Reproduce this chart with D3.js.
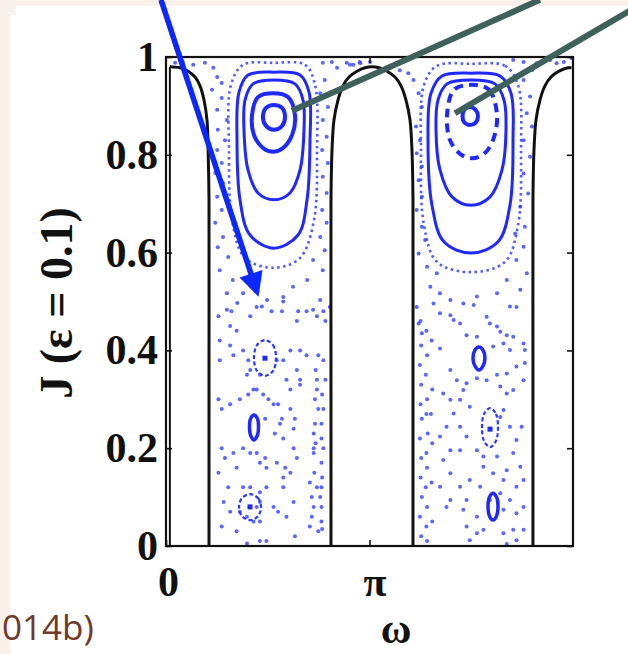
<!DOCTYPE html>
<html>
<head>
<meta charset="utf-8">
<script src="https://cdn.jsdelivr.net/npm/d3@7"></script>
<style>
  html, body { margin: 0; padding: 0; background: #f9f1ea; }
  svg { display: block; }
  .tick text { font-family: "Liberation Serif", "Times New Roman", serif; font-weight: bold; font-size: 42px; fill: #111; }
</style>
</head>
<body>
<svg id="chart" width="628" height="654"></svg>
<script>
// axis ticks
var xTickValues = [0, Math.PI];
var xTickLabels = ["0", "\u03c0"];
var yTickValues = [0, 0.2, 0.4, 0.6, 0.8, 1];
var yTickLabels = ["0", "0.2", "0.4", "0.6", "0.8", "1"];

// separatrices (black) [omega, J]
var sepLeft = [[0.06,0.980],[0.216,0.978],[0.340,0.971],[0.448,0.959],[0.525,0.941],[0.587,0.912],[0.633,0.871],[0.650,0.810],[0.664,0.708],[0.664,0.40],[0.664,0.0]];
var sepMiddle = [[2.547,0],[2.547,0.40],[2.547,0.708],[2.563,0.810],[2.593,0.871],[2.655,0.912],[2.732,0.941],[2.825,0.959],[2.948,0.971],[3.072,0.978],[3.180,0.980],[3.288,0.978],[3.412,0.971],[3.535,0.959],[3.628,0.941],[3.705,0.912],[3.767,0.871],[3.797,0.810],[3.813,0.708],[3.813,0.40],[3.813,0]];
var sepRight = [[5.665,0],[5.665,0.40],[5.665,0.708],[5.681,0.810],[5.712,0.871],[5.773,0.912],[5.850,0.941],[5.943,0.959],[6.067,0.971],[6.206,0.978],[6.26,0.978]];
var sepWall = [[0.06,0],[0.06,0.98]];

// big islands: solid rings
var ringsSolid = [
  // left island
  [[1.667,0.902],[1.791,0.896],[1.837,0.877],[1.791,0.859],[1.667,0.851],[1.544,0.859],[1.497,0.877],[1.544,0.896]],
  [[1.652,0.926],[1.883,0.918],[1.991,0.881],[1.945,0.840],[1.806,0.814],[1.652,0.806],[1.497,0.814],[1.359,0.840],[1.328,0.881],[1.420,0.918]],
  [[1.667,0.953],[1.991,0.945],[2.115,0.912],[2.130,0.851],[2.069,0.769],[1.914,0.722],[1.667,0.708],[1.420,0.722],[1.266,0.769],[1.204,0.851],[1.220,0.912],[1.343,0.945]],
  [[1.667,0.969],[2.069,0.963],[2.208,0.928],[2.223,0.830],[2.177,0.708],[2.038,0.636],[1.667,0.609],[1.297,0.636],[1.142,0.708],[1.096,0.830],[1.127,0.928],[1.266,0.963]],
  // right island
  [[4.693,0.898],[4.780,0.892],[4.816,0.879],[4.780,0.866],[4.693,0.861],[4.606,0.866],[4.577,0.879],[4.606,0.892]],
  [[4.708,0.953],[5.079,0.945],[5.218,0.912],[5.249,0.851],[5.187,0.769],[5.002,0.714],[4.708,0.697],[4.415,0.714],[4.230,0.769],[4.168,0.851],[4.199,0.912],[4.338,0.945]],
  [[4.708,0.967],[5.156,0.961],[5.326,0.926],[5.357,0.830],[5.310,0.697],[5.125,0.622],[4.708,0.599],[4.291,0.622],[4.106,0.697],[4.045,0.830],[4.091,0.926],[4.261,0.961]]
];
var ringsSolidWidth = [4, 4, 3, 3, 4, 3, 3];

// right island broken ring
var ringsDashed = [
  [[4.724,0.943],[4.986,0.933],[5.110,0.881],[5.048,0.830],[4.909,0.802],[4.724,0.793],[4.539,0.802],[4.384,0.830],[4.338,0.881],[4.446,0.933]]
];

// outermost dotted rings
var ringsDotted = [
  [[1.667,0.988],[2.146,0.984],[2.300,0.943],[2.331,0.810],[2.285,0.667],[2.069,0.589],[1.667,0.569],[1.220,0.589],[1.019,0.667],[0.973,0.810],[1.003,0.943],[1.189,0.984]],
  [[4.708,0.986],[5.233,0.982],[5.434,0.943],[5.480,0.810],[5.434,0.656],[5.233,0.581],[4.708,0.560],[4.183,0.581],[3.983,0.656],[3.936,0.810],[3.983,0.943],[4.183,0.982]]
];

// small islands in the chaotic sea
var smallSolid = [
  [[1.358,0.268],[1.412,0.260],[1.428,0.243],[1.412,0.227],[1.358,0.217],[1.304,0.227],[1.289,0.243],[1.304,0.260]],
  [[4.832,0.407],[4.893,0.401],[4.924,0.384],[4.893,0.368],[4.832,0.360],[4.770,0.368],[4.739,0.384],[4.770,0.401]],
  [[5.048,0.108],[5.102,0.100],[5.125,0.080],[5.102,0.061],[5.048,0.053],[4.994,0.061],[4.971,0.080],[4.994,0.100]]
];
var smallDotted = [
  [[1.528,0.421],[1.652,0.411],[1.698,0.384],[1.652,0.358],[1.528,0.348],[1.405,0.358],[1.358,0.384],[1.405,0.411]],
  [[1.297,0.106],[1.420,0.098],[1.467,0.080],[1.420,0.061],[1.297,0.053],[1.173,0.061],[1.127,0.080],[1.173,0.098]],
  [[5.002,0.282],[5.094,0.270],[5.125,0.241],[5.094,0.215],[5.002,0.202],[4.909,0.215],[4.878,0.241],[4.909,0.270]]
];
var smallCentres = [[1.528,0.384],[1.297,0.080],[5.002,0.239]];

// chaotic orbit points
var chaosTop = [[0.14,0.988],[0.26,0.990],[0.42,0.984],[0.60,0.988],[0.73,0.978],[2.42,0.988],[2.56,0.990],[2.64,0.978],[2.79,0.988],[2.89,0.984],[2.99,0.990],
  [2.84,0.984],[3.00,0.987],[3.15,0.990],[3.36,0.975],[3.51,0.984],[3.61,0.973],[3.74,0.967],[5.36,0.994],[5.52,0.990],[5.65,0.973],[5.72,0.987],[5.93,0.994],[6.03,0.987],[6.14,0.990],[6.26,0.998]];
var chaosUpperLeft = [[0.79,0.959],[0.86,0.947],[0.71,0.933],[0.86,0.916],[0.79,0.892],[0.94,0.871],[0.80,0.851],[0.91,0.830],[0.79,0.810],[0.86,0.783],[0.76,0.763],[0.88,0.742],[0.79,0.714],[0.86,0.687],[0.76,0.661],[0.88,0.632],[0.80,0.611],[0.96,0.591],[0.83,0.564],[1.03,0.544],[0.94,0.517],[1.19,0.517],
  [2.45,0.953],[2.38,0.926],[2.50,0.898],[2.42,0.871],[2.48,0.837],[2.41,0.810],[2.50,0.783],[2.42,0.755],[2.48,0.722],[2.41,0.687],[2.48,0.661],[2.38,0.632],[2.45,0.605],[2.27,0.585],[2.42,0.564],[2.18,0.544],[1.96,0.530],[1.81,0.509],[1.56,0.503],[1.40,0.489],[2.38,0.503],[2.27,0.483],[2.53,0.489],[0.94,0.483],[1.10,0.497]];
var chaosLowerLeft = [[0.81,0.47],[1.01,0.48],[0.99,0.45],[1.09,0.44],[1.30,0.47],[1.48,0.49],[1.63,0.48],[1.79,0.48],[1.81,0.50],[2.04,0.48],[2.02,0.46],[2.17,0.48],[2.33,0.47],[2.43,0.48],[2.46,0.46],
  [0.83,0.42],[0.99,0.41],[0.83,0.38],[1.04,0.39],[1.19,0.40],[1.27,0.38],[1.30,0.36],[1.25,0.35],[1.45,0.35],[1.71,0.38],[1.81,0.38],[1.92,0.40],[2.07,0.40],[2.17,0.39],[2.02,0.36],[1.86,0.34],[2.07,0.34],[2.35,0.39],[2.43,0.38],[2.46,0.34],[2.33,0.34],
  [0.81,0.30],[0.86,0.28],[0.99,0.29],[1.14,0.30],[1.27,0.31],[1.35,0.32],[1.40,0.32],[1.50,0.31],[1.58,0.30],[1.66,0.29],[1.73,0.29],[1.92,0.32],[2.07,0.33],[1.92,0.28],[1.99,0.26],[1.79,0.26],[1.53,0.26],[1.76,0.25],[1.68,0.23],[1.81,0.22],[1.97,0.24],
  [0.86,0.20],[0.91,0.18],[0.81,0.15],[1.04,0.19],[1.19,0.20],[1.30,0.19],[1.40,0.19],[1.53,0.18],[1.45,0.17],[1.55,0.16],[1.71,0.17],[1.84,0.16],[1.97,0.20],[2.02,0.18],[1.92,0.15],[1.81,0.14],[1.09,0.16],[0.96,0.12],[1.19,0.12],[1.30,0.12],[1.45,0.11],[1.55,0.12],[1.81,0.12],
  [0.89,0.09],[0.99,0.07],[0.86,0.04],[1.09,0.03],[1.14,0.07],[1.25,0.06],[1.30,0.08],[1.40,0.08],[1.45,0.09],[1.35,0.05],[1.45,0.05],[1.66,0.08],[1.73,0.07],[1.86,0.06],[1.97,0.09],[1.99,0.02],[1.25,0.005],[1.45,0.01],[1.55,0.01],
  [2.33,0.32],[2.30,0.30],[2.35,0.28],[2.43,0.28],[2.30,0.25],[2.40,0.25],[2.28,0.23],[2.40,0.22],[2.28,0.20],[2.43,0.20],[2.28,0.19],[2.40,0.17],[2.22,0.13],[2.33,0.12],[2.40,0.12],[2.25,0.10],[2.38,0.10],[2.28,0.08],[2.40,0.08],[2.25,0.06],[2.40,0.05],[2.22,0.04],[2.35,0.03],
  [2.31,0.36],[2.41,0.31],[2.31,0.21],[2.41,0.14],[2.29,0.15],[2.41,0.035]];
var chaosUpperRight = [[3.82,0.953],[3.90,0.926],[3.95,0.898],[3.86,0.858],[3.92,0.830],[3.87,0.803],[3.95,0.776],[3.90,0.748],[3.95,0.714],[3.87,0.687],[3.95,0.653],[4.00,0.626],[3.90,0.598],[4.03,0.571],[4.18,0.558],[4.08,0.530],[4.23,0.517],[4.39,0.503],
  [5.52,0.953],[5.62,0.919],[5.57,0.885],[5.65,0.858],[5.52,0.830],[5.62,0.796],[5.52,0.762],[5.59,0.721],[5.47,0.694],[5.54,0.653],[5.39,0.639],[5.52,0.612],[5.41,0.585],[5.57,0.558],[5.26,0.544],[5.47,0.524],[5.11,0.517],[4.80,0.510],[4.59,0.496],[5.31,0.490]];
var chaosLowerRight = [[3.87,0.489],[3.90,0.455],[3.95,0.435],[4.13,0.496],[4.23,0.476],[4.39,0.472],[4.44,0.462],[4.54,0.455],[4.75,0.493],[4.64,0.431],[4.80,0.428],[4.95,0.469],[5.00,0.455],[5.11,0.449],[5.16,0.438],[5.26,0.431],[5.41,0.489],[5.36,0.428],[5.52,0.414],[5.54,0.401],[5.21,0.414],[5.05,0.408],[5.31,0.401],
  [4.23,0.404],[4.39,0.360],[4.49,0.339],[4.59,0.319],[4.64,0.333],[4.80,0.343],[4.95,0.339],[5.11,0.350],[5.26,0.353],[5.41,0.367],[5.52,0.339],[5.54,0.374],[5.36,0.319],[5.26,0.312],[5.16,0.326],
  [4.39,0.299],[4.54,0.299],[4.69,0.285],[4.44,0.271],[4.54,0.244],[4.64,0.224],[5.21,0.278],[5.16,0.264],[5.31,0.244],[5.49,0.244],[5.41,0.217],[5.36,0.190],[5.47,0.162],[5.26,0.155],[5.11,0.183],[5.05,0.149],[5.21,0.135],[4.90,0.183],[4.80,0.196],[4.54,0.196],[4.39,0.196],[4.23,0.224],
  [4.39,0.149],[4.54,0.121],[4.69,0.135],[4.90,0.162],[4.85,0.121],[5.16,0.108],[5.41,0.121],[5.52,0.135],[5.31,0.094],[5.52,0.080],[5.41,0.067],[5.21,0.074],[4.80,0.060],[4.59,0.074],[4.64,0.040],[4.80,0.026],[4.90,0.033],[5.21,0.026],[5.36,0.033],[5.52,0.033],[5.41,0.012],[5.26,0.004],[4.69,0.012],[4.33,0.080],[4.23,0.121],[4.39,0.094],[4.28,0.176],[4.33,0.244],[4.28,0.312],[5.00,0.094],[4.64,0.094],
  [3.93,0.46],[3.94,0.41],[3.92,0.37],[3.94,0.33],[3.93,0.29],[3.95,0.26],[3.92,0.22],[3.94,0.18],[3.93,0.14],[3.95,0.10],[3.92,0.06],[3.94,0.02],
  [4.02,0.44],[4.03,0.39],[4.01,0.35],[4.03,0.30],[4.02,0.27],[4.04,0.23],[4.02,0.19],[4.03,0.16],[4.01,0.12],[4.03,0.08],[4.02,0.04],[4.03,0.01],
  [4.10,0.42],[4.11,0.32],[4.09,0.27],[4.11,0.21],[4.10,0.13],[4.11,0.05]];

// annotation lines [omega, J] (start outside the axes)
var blueArrow = [[-0.077,1.117],[1.405,0.519]];
var greyLines = [[[1.945,0.890],[5.773,1.117]], [[4.461,0.885],[7.47,1.119]]];

var svg = d3.select("#chart");

// slide background
svg.append("rect").attr("x", 16).attr("y", 6).attr("width", 612).attr("height", 10).attr("fill", "#ffffff");
svg.append("rect").attr("x", 10).attr("y", 15).attr("width", 618).attr("height", 639).attr("fill", "#ffffff");

var x = d3.scaleLinear().domain([0, 2 * Math.PI]).range([166, 573]);
var y = d3.scaleLinear().domain([0, 1]).range([546, 57]);

svg.append("clipPath").attr("id", "plotclip")
  .append("rect").attr("x", 166).attr("y", 57).attr("width", 407).attr("height", 489);

var plot = svg.append("g").attr("clip-path", "url(#plotclip)");

var openLine = d3.line().x(function(d) { return x(d[0]); }).y(function(d) { return y(d[1]); }).curve(d3.curveCatmullRom);
var ringLine = d3.line().x(function(d) { return x(d[0]); }).y(function(d) { return y(d[1]); }).curve(d3.curveCatmullRomClosed);
var straight = d3.line().x(function(d) { return x(d[0]); }).y(function(d) { return y(d[1]); });

// chaotic sea
var dots = chaosTop.concat(chaosUpperLeft, chaosLowerLeft, chaosUpperRight, chaosLowerRight);
plot.append("g").selectAll("circle").data(dots).enter().append("circle")
  .attr("cx", function(d) { return x(d[0]); })
  .attr("cy", function(d) { return y(d[1]); })
  .attr("r", 2)
  .attr("fill", "#3040ff")
  .attr("opacity", 0.8);

// islands
plot.append("g").selectAll("path").data(ringsSolid).enter().append("path")
  .attr("d", function(d) { return ringLine(d); }).attr("fill", "none").attr("stroke", "#1e28ff")
  .attr("stroke-width", function(d, i) { return ringsSolidWidth[i]; });

plot.append("g").selectAll("path").data(ringsDashed).enter().append("path")
  .attr("d", function(d) { return ringLine(d); }).attr("fill", "none").attr("stroke", "#1e28ff")
  .attr("stroke-width", 4).attr("stroke-dasharray", "9,6");

plot.append("g").selectAll("path").data(ringsDotted).enter().append("path")
  .attr("d", function(d) { return ringLine(d); }).attr("fill", "none").attr("stroke", "#3040ff")
  .attr("stroke-width", 2.6).attr("stroke-dasharray", "2.5,3.5").attr("opacity", 0.85);

plot.append("g").selectAll("path").data(smallSolid).enter().append("path")
  .attr("d", function(d) { return ringLine(d); }).attr("fill", "none").attr("stroke", "#1e28ff").attr("stroke-width", 3.5);

plot.append("g").selectAll("path").data(smallDotted).enter().append("path")
  .attr("d", function(d) { return ringLine(d); }).attr("fill", "none").attr("stroke", "#2a38ff")
  .attr("stroke-width", 2.2).attr("stroke-dasharray", "4,2.5");

plot.append("g").selectAll("rect").data(smallCentres).enter().append("rect")
  .attr("x", function(d) { return x(d[0]) - 2.5; })
  .attr("y", function(d) { return y(d[1]) - 2.5; })
  .attr("width", 5).attr("height", 5).attr("fill", "#1e28ff");

// separatrices
plot.append("g").selectAll("path").data([sepLeft, sepMiddle, sepRight]).enter().append("path")
  .attr("d", function(d) { return openLine(d); }).attr("fill", "none").attr("stroke", "#111").attr("stroke-width", 3);
plot.append("path").attr("d", straight(sepWall)).attr("fill", "none").attr("stroke", "#111").attr("stroke-width", 2);

// frame
svg.append("rect").attr("x", 166).attr("y", 57).attr("width", 407).attr("height", 489)
  .attr("fill", "none").attr("stroke", "#111").attr("stroke-width", 2.2);

// axes with inward ticks
svg.append("g").attr("transform", "translate(166,0)")
  .call(d3.axisLeft(y).tickValues(yTickValues).tickFormat(function(d, i) { return yTickLabels[i]; }).tickSize(-6).tickPadding(8))
  .call(function(g) { g.select(".domain").remove(); });
svg.append("g").attr("transform", "translate(573,0)")
  .call(d3.axisRight(y).tickValues(yTickValues).tickFormat("").tickSize(-6))
  .call(function(g) { g.select(".domain").remove(); });
svg.append("g").attr("transform", "translate(0,546)")
  .call(d3.axisBottom(x).tickValues(xTickValues).tickFormat(function(d, i) { return xTickLabels[i]; }).tickSize(-6).tickPadding(20))
  .call(function(g) { g.select(".domain").remove(); })
  .call(function(g) { g.selectAll(".tick text").attr("dx", function(d, i) { return i === 1 ? 5 : 2; }); });
svg.append("g").attr("transform", "translate(0,57)")
  .call(d3.axisTop(x).tickValues([Math.PI]).tickFormat("").tickSize(-6))
  .call(function(g) { g.select(".domain").remove(); });
svg.selectAll(".tick line").attr("stroke", "#111").attr("stroke-width", 1.6);

// axis titles
svg.append("text")
  .attr("transform", "translate(72,303) rotate(-90)")
  .attr("text-anchor", "middle")
  .style("font-family", "'Liberation Serif', 'Times New Roman', serif")
  .style("font-weight", "bold").style("font-size", "46px").style("fill", "#111")
  .text("J (\u03b5 = 0.1)");
svg.append("text")
  .attr("x", 396).attr("y", 643)
  .attr("text-anchor", "middle")
  .style("font-family", "'Liberation Serif', 'Times New Roman', serif")
  .style("font-weight", "bold").style("font-size", "42px").style("fill", "#111")
  .text("\u03c9");

// citation fragment
svg.append("text")
  .attr("x", 2).attr("y", 640)
  .attr("text-anchor", "start")
  .style("font-family", "'Open Sans', sans-serif")
  .style("font-size", "35px").style("fill", "#6e3a2c")
  .text("014b)");

// annotation pointers
svg.append("defs").append("marker")
  .attr("id", "head").attr("viewBox", "0 0 10 10").attr("refX", 8).attr("refY", 5)
  .attr("markerWidth", 4.6).attr("markerHeight", 4.4).attr("markerUnits", "strokeWidth").attr("orient", "auto")
  .append("path").attr("d", "M0,0L10,5L0,10Z").attr("fill", "#0a28ff");

svg.append("path").attr("d", straight(blueArrow))
  .attr("stroke", "#0a28ff").attr("stroke-width", 5.5).attr("fill", "none").attr("marker-end", "url(#head)");

svg.append("g").selectAll("path").data(greyLines).enter().append("path")
  .attr("d", function(d) { return straight(d); })
  .attr("stroke", "#3f615b").attr("stroke-width", 6).attr("fill", "none");
</script>
</body>
</html>
